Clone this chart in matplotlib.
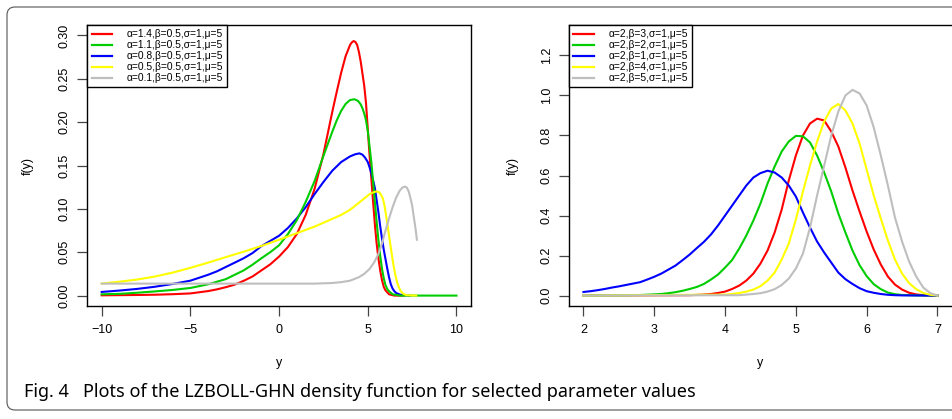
import matplotlib.pyplot as plt
from matplotlib.patches import FancyBboxPatch

# Left panel: alpha varies, beta=0.5, sigma=1, mu=5
a14_x = [-10, -9, -8, -7, -6, -5, -4, -3.5, -3, -2.5, -2, -1.5, -1, -0.5, 0, 0.5, 1.0, 1.5, 2.0, 2.5,
         3.0, 3.25, 3.5, 3.75, 4.0, 4.1, 4.2, 4.3, 4.4, 4.5, 4.6, 4.7, 4.8, 4.9, 5.0, 5.1, 5.2, 5.3,
         5.4, 5.5, 5.6, 5.7, 5.8, 5.9, 6.0, 6.2, 6.5, 7.0]
a14_y = [0.0003, 0.0005, 0.0007, 0.001, 0.0016, 0.0025, 0.0052, 0.0072, 0.0097, 0.0126, 0.017, 0.022,
         0.029, 0.036, 0.045, 0.056, 0.071, 0.093, 0.123, 0.163, 0.212, 0.235, 0.257, 0.276, 0.289,
         0.292, 0.2935, 0.2925, 0.289, 0.281, 0.27, 0.256, 0.242, 0.222, 0.192, 0.162, 0.135, 0.108,
         0.082, 0.06, 0.043, 0.029, 0.018, 0.01, 0.006, 0.0015, 0.0, 0.0]

a11_x = [-10, -9, -8, -7, -6, -5, -4, -3, -2.5, -2, -1.5, -1, -0.5, 0, 0.5, 1.0, 1.5, 2.0, 2.5, 3.0,
         3.25, 3.5, 3.75, 4.0, 4.25, 4.45, 4.6, 4.7, 4.8, 4.9, 5.0, 5.1, 5.2, 5.3, 5.4, 5.5, 5.6, 5.7,
         5.8, 5.9, 6.0, 6.1, 6.2, 6.4, 6.8, 7.5, 10]
a11_y = [0.0015, 0.002, 0.0033, 0.0048, 0.0065, 0.0088, 0.013, 0.019, 0.024, 0.029, 0.0356, 0.043,
         0.05, 0.058, 0.071, 0.087, 0.108, 0.132, 0.161, 0.189, 0.202, 0.213, 0.221, 0.2255, 0.2264,
         0.2245, 0.2205, 0.216, 0.21, 0.202, 0.19, 0.172, 0.154, 0.131, 0.108, 0.085, 0.064, 0.046,
         0.031, 0.02, 0.012, 0.0075, 0.005, 0.0015, 0.0, 0.0, 0.0]

a08_x = [-10, -9, -8, -7, -6, -5, -4, -3.5, -3, -2.5, -2, -1.5, -1, -0.5, 0, 0.5, 1.0, 1.5, 2.0, 2.5,
         3.0, 3.5, 4.0, 4.3, 4.53, 4.7, 4.85, 5.0, 5.1, 5.2, 5.3, 5.4, 5.5, 5.6, 5.7, 5.8, 5.9, 6.0,
         6.1, 6.2, 6.3, 6.4, 6.5, 6.6, 6.8, 7.0, 7.35]
a08_y = [0.0042, 0.0058, 0.0077, 0.0102, 0.0134, 0.0172, 0.024, 0.028, 0.033, 0.038, 0.043, 0.049,
         0.057, 0.063, 0.069, 0.078, 0.089, 0.102, 0.117, 0.131, 0.144, 0.154, 0.1605, 0.163, 0.164,
         0.1625, 0.159, 0.154, 0.148, 0.141, 0.133, 0.124, 0.11, 0.096, 0.08, 0.066, 0.053, 0.042,
         0.031, 0.021, 0.013, 0.008, 0.005, 0.003, 0.0012, 0.0006, 0.0]

a05_x = [-10, -9, -8, -7, -6, -5, -4, -3, -2, -1, 0, 1, 2, 3, 3.5, 4, 4.5, 4.8, 5.1, 5.3, 5.5, 5.65,
         5.75, 5.85, 5.95, 6.05, 6.15, 6.25, 6.35, 6.45, 6.55, 6.65, 6.75, 6.85, 7.0, 7.2, 7.73]
a05_y = [0.0138, 0.016, 0.0185, 0.022, 0.0265, 0.032, 0.038, 0.0444, 0.0506, 0.0572, 0.0644, 0.072,
         0.0795, 0.0885, 0.093, 0.099, 0.107, 0.112, 0.117, 0.119, 0.1202, 0.119, 0.116, 0.112, 0.103,
         0.09, 0.076, 0.062, 0.048, 0.035, 0.024, 0.0155, 0.0095, 0.0055, 0.002, 0.0004, 0.0]

a01_x = [-10, -5, 0, 2, 3, 3.5, 4, 4.5, 4.8, 5.1, 5.35, 5.6, 5.8, 6.0, 6.2, 6.4, 6.6, 6.8, 6.95, 7.1,
         7.2, 7.3, 7.4, 7.5, 7.6, 7.7, 7.77]
a01_y = [0.0138, 0.0138, 0.0138, 0.0138, 0.0145, 0.0155, 0.0172, 0.0212, 0.025, 0.0307, 0.038, 0.048,
         0.06, 0.075, 0.089, 0.102, 0.113, 0.121, 0.1245, 0.1257, 0.1245, 0.1205, 0.113, 0.104, 0.09,
         0.076, 0.0644]

# Right panel: beta varies, alpha=2, sigma=1, mu=5
b3_x = [2.0, 3.5, 3.7, 3.8, 3.9, 4.0, 4.1, 4.2, 4.3, 4.4, 4.5, 4.6, 4.7, 4.8, 4.9, 5.0, 5.1, 5.2, 5.3,
        5.4, 5.5, 5.6, 5.7, 5.8, 5.9, 6.0, 6.1, 6.2, 6.3, 6.4, 6.5, 6.6, 6.7, 6.8, 7.0]
b3_y = [0.0, 0.002, 0.005, 0.008, 0.013, 0.02, 0.033, 0.05, 0.075, 0.11, 0.16, 0.225, 0.315, 0.43,
        0.575, 0.70, 0.80, 0.86, 0.884, 0.875, 0.82, 0.745, 0.64, 0.525, 0.42, 0.32, 0.23, 0.155,
        0.095, 0.055, 0.03, 0.014, 0.006, 0.002, 0.0]

b2_x = [2.0, 2.5, 2.8, 3.0, 3.1, 3.2, 3.3, 3.4, 3.5, 3.6, 3.7, 3.8, 3.9, 4.0, 4.1, 4.2, 4.3, 4.4, 4.5,
        4.6, 4.7, 4.8, 4.9, 5.0, 5.1, 5.2, 5.3, 5.4, 5.5, 5.6, 5.7, 5.8, 5.9, 6.0, 6.1, 6.2, 6.3, 6.4,
        6.5, 6.7, 7.0]
b2_y = [0.0, 0.001, 0.003, 0.006, 0.008, 0.012, 0.017, 0.024, 0.033, 0.043, 0.058, 0.08, 0.105, 0.14,
        0.178, 0.235, 0.30, 0.375, 0.46, 0.56, 0.645, 0.72, 0.77, 0.798, 0.796, 0.765, 0.70, 0.615,
        0.52, 0.41, 0.315, 0.225, 0.152, 0.097, 0.057, 0.032, 0.015, 0.007, 0.003, 0.001, 0.0]

b1_x = [2.0, 2.1, 2.2, 2.3, 2.4, 2.5, 2.6, 2.7, 2.8, 2.9, 3.0, 3.1, 3.2, 3.3, 3.4, 3.5, 3.6, 3.7, 3.8,
        3.9, 4.0, 4.1, 4.2, 4.3, 4.4, 4.5, 4.6, 4.7, 4.8, 4.9, 5.0, 5.1, 5.2, 5.3, 5.4, 5.5, 5.6, 5.7,
        5.8, 5.9, 6.0, 6.1, 6.2, 6.3, 6.4, 6.5, 7.0]
b1_y = [0.018, 0.022, 0.027, 0.033, 0.040, 0.046, 0.053, 0.060, 0.067, 0.080, 0.094, 0.11, 0.13,
        0.150, 0.177, 0.205, 0.237, 0.268, 0.305, 0.35, 0.40, 0.45, 0.50, 0.55, 0.59, 0.612, 0.624,
        0.615, 0.59, 0.55, 0.495, 0.415, 0.34, 0.27, 0.215, 0.165, 0.115, 0.082, 0.058, 0.037, 0.022,
        0.014, 0.008, 0.004, 0.002, 0.001, 0.0]

b4_x = [2.0, 4.0, 4.1, 4.2, 4.3, 4.4, 4.5, 4.6, 4.7, 4.8, 4.9, 5.0, 5.1, 5.2, 5.3, 5.4, 5.5, 5.6, 5.7,
        5.8, 5.9, 6.0, 6.1, 6.2, 6.3, 6.4, 6.5, 6.6, 6.7, 6.8, 6.9, 7.0]
b4_y = [0.0, 0.005, 0.008, 0.013, 0.02, 0.03, 0.047, 0.075, 0.115, 0.18, 0.26, 0.38, 0.52, 0.65, 0.77,
        0.87, 0.935, 0.957, 0.925, 0.86, 0.76, 0.63, 0.50, 0.385, 0.275, 0.18, 0.11, 0.062, 0.032,
        0.013, 0.004, 0.0]

b5_x = [2.0, 4.2, 4.4, 4.5, 4.6, 4.7, 4.8, 4.9, 5.0, 5.1, 5.2, 5.3, 5.4, 5.5, 5.6, 5.7, 5.8, 5.9, 6.0,
        6.1, 6.2, 6.3, 6.4, 6.5, 6.6, 6.7, 6.8, 6.9, 7.0]
b5_y = [0.0, 0.002, 0.008, 0.012, 0.02, 0.032, 0.053, 0.085, 0.135, 0.21, 0.34, 0.50, 0.65, 0.80, 0.92,
        1.0, 1.028, 1.01, 0.95, 0.84, 0.70, 0.55, 0.39, 0.27, 0.17, 0.095, 0.04, 0.012, 0.0]

left_labels = ["α=1.4,β=0.5,σ=1,μ=5", "α=1.1,β=0.5,σ=1,μ=5", "α=0.8,β=0.5,σ=1,μ=5",
               "α=0.5,β=0.5,σ=1,μ=5", "α=0.1,β=0.5,σ=1,μ=5"]
right_labels = ["α=2,β=3,σ=1,μ=5", "α=2,β=2,σ=1,μ=5", "α=2,β=1,σ=1,μ=5",
                "α=2,β=4,σ=1,μ=5", "α=2,β=5,σ=1,μ=5"]
colors = ['#FF0000', '#00CD00', '#0000FF', '#FFFF00', '#BEBEBE']

plt.rcParams['font.family'] = ['Liberation Sans', 'DejaVu Sans']

fig = plt.figure(figsize=(9.52, 4.19), dpi=100)
ax1 = fig.add_axes([0.0919, 0.2697, 0.4025, 0.6706])
ax2 = fig.add_axes([0.598, 0.2697, 0.4016, 0.6706])

lw = 1.5
# green sits on top of red and blue tails, like the original
ax1.plot(a14_x, a14_y, color=colors[0], lw=lw, label=left_labels[0], zorder=2)
ax1.plot(a11_x, a11_y, color=colors[1], lw=lw, label=left_labels[1], zorder=4)
ax1.plot(a08_x, a08_y, color=colors[2], lw=lw, label=left_labels[2], zorder=3)
ax1.plot(a05_x, a05_y, color=colors[3], lw=lw, label=left_labels[3], zorder=5)
ax1.plot(a01_x, a01_y, color=colors[4], lw=lw, label=left_labels[4], zorder=6)

ax2.plot(b3_x, b3_y, color=colors[0], lw=lw, label=right_labels[0])
ax2.plot(b2_x, b2_y, color=colors[1], lw=lw, label=right_labels[1])
ax2.plot(b1_x, b1_y, color=colors[2], lw=lw, label=right_labels[2])
ax2.plot(b4_x, b4_y, color=colors[3], lw=lw, label=right_labels[3])
ax2.plot(b5_x, b5_y, color=colors[4], lw=lw, label=right_labels[4])

ax1.set_xlim(-10.8, 10.8)
ax1.set_ylim(-0.012, 0.312)
ax1.set_xticks([-10, -5, 0, 5, 10])
ax1.set_yticks([0.0, 0.05, 0.10, 0.15, 0.20, 0.25, 0.30])
ax1.set_yticklabels(["0.00", "0.05", "0.10", "0.15", "0.20", "0.25", "0.30"])

ax2.set_xlim(1.8, 7.2)
ax2.set_ylim(-0.052, 1.352)
ax2.set_xticks([2, 3, 4, 5, 6, 7])
ax2.set_yticks([0.0, 0.2, 0.4, 0.6, 0.8, 1.0, 1.2])
ax2.set_yticklabels(["0.0", "0.2", "0.4", "0.6", "0.8", "1.0", "1.2"])
ax2.spines['right'].set_visible(False)

for ax, ypad in ((ax1, 18), (ax2, 16)):
    for s in ax.spines.values():
        s.set_linewidth(1.0)
        s.set_color('black')
    ax.tick_params(direction='out', length=7, width=0.9, color='#444444', labelsize=9, pad=6)
    ax.tick_params(axis='y', labelrotation=90, pad=5)
    for lbl in ax.get_yticklabels():
        lbl.set_va('center')
    ax.set_xlabel("y", fontsize=9, labelpad=15)
    ax.set_ylabel("f(y)", fontsize=9, labelpad=ypad)
    leg = ax.legend(loc='upper left', borderaxespad=0, fontsize=7.4, handlelength=2.0,
                    handletextpad=1.4, borderpad=0.4, labelspacing=0.1, fancybox=False,
                    edgecolor='black', framealpha=1)
    leg.get_frame().set_linewidth(1.0)
    for line in leg.get_lines():
        line.set_linewidth(1.6)

# rounded outer frame and caption
frame = FancyBboxPatch((7, 9), 960, 403, boxstyle="round,pad=0,rounding_size=8",
                       transform=None, fill=False, edgecolor='#555555', lw=0.8)
fig.add_artist(frame)
fig.text(24 / 952, 27 / 419, "Fig. 4", fontsize=13, fontweight='bold',
         family='Noto Sans', va='center', ha='left')
fig.text(83 / 952, 27 / 419, "Plots of the LZBOLL-GHN density function for selected parameter values",
         fontsize=13, family='Noto Sans', va='center', ha='left')

plt.savefig('out.png', dpi=100)
